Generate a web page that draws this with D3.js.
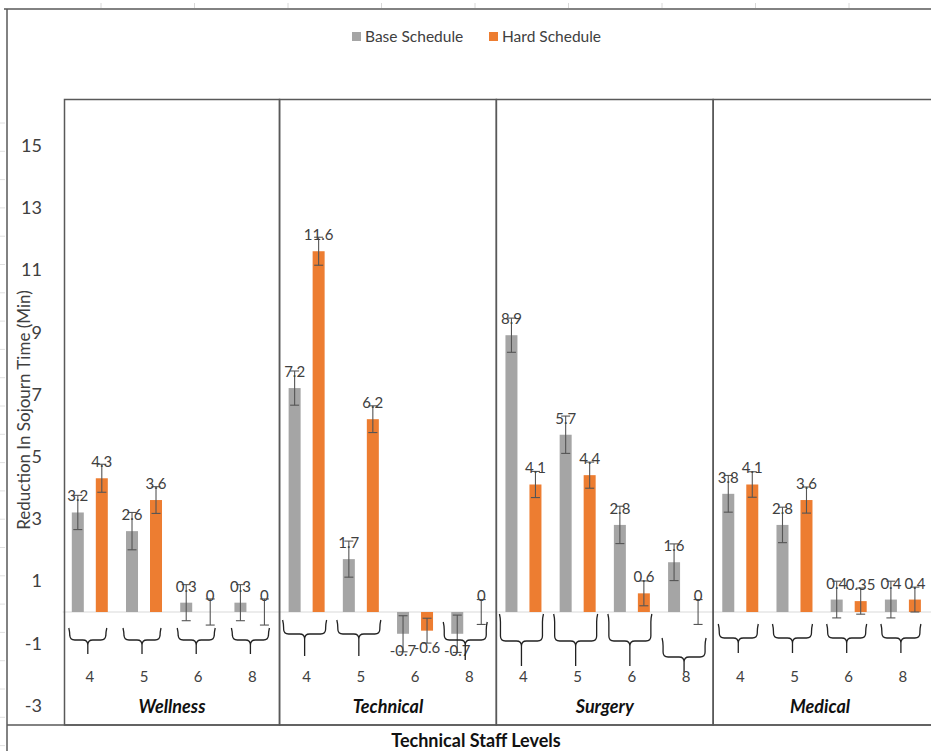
<!DOCTYPE html>
<html>
<head>
<meta charset="utf-8">
<script src="https://cdn.jsdelivr.net/npm/d3@7"></script>
<style>
  html, body { margin: 0; padding: 0; background: #fff; }
  svg { display: block; font-family: Lato, "Open Sans", sans-serif; }
</style>
</head>
<body>
<svg id="chart" width="931" height="751"></svg>
<script>
// ---------------- data ----------------
const panels = ["Wellness", "Technical", "Surgery", "Medical"];
const levels = ["4", "5", "6", "8"];
const seriesNames = ["Base Schedule", "Hard Schedule"];

const baseValues = {
  Wellness:  [3.2, 2.6, 0.3, 0.3],
  Technical: [7.2, 1.7, -0.7, -0.7],
  Surgery:   [8.9, 5.7, 2.8, 1.6],
  Medical:   [3.8, 2.8, 0.4, 0.4]
};
const hardValues = {
  Wellness:  [4.3, 3.6, 0, 0],
  Technical: [11.6, 6.2, -0.6, 0],
  Surgery:   [4.1, 4.4, 0.6, 0],
  Medical:   [4.1, 3.6, 0.35, 0.4]
};
const baseErrors = {
  Wellness:  [0.55, 0.6, 0.58, 0.58],
  Technical: [0.55, 0.58, 0.58, 0.6],
  Surgery:   [0.55, 0.6, 0.6, 0.59],
  Medical:   [0.59, 0.57, 0.59, 0.59]
};
const hardErrors = {
  Wellness:  [0.45, 0.43, 0.42, 0.42],
  Technical: [0.45, 0.43, 0.4, 0.4],
  Surgery:   [0.42, 0.42, 0.4, 0.4],
  Medical:   [0.41, 0.42, 0.42, 0.4]
};
const yTicks = [15, 13, 11, 9, 7, 5, 3, 1, -1, -3];
const yTitle = "Reduction In Sojourn Time (Min)";
const xTitle = "Technical Staff Levels";

// ---------------- styles / layout ----------------
const colors = { "Base Schedule": "#a5a5a5", "Hard Schedule": "#ed7d31" };
const frameColor = "#595959";
const textColor = "#404040";
const W = 931, H = 751;
const plotLeft = 62.7, plotRight = 930;
const panelTop = 99.5, panelBottom = 725;

// brace shape per panel (pixel offsets below the zero line)
const braceStyle = {
  Wellness:  { halfW: 18, top: 16, mid: 28, tip: 42 },
  Technical: { halfW: 21, top: 8,  mid: 22, tip: 44 },
  Surgery:   { halfW: 21, top: 2,  mid: 29, tip: 54 },
  Medical:   { halfW: 19, top: 12, mid: 26, tip: 41 }
};
const braceOverride = {
  "Technical|6": null,
  "Technical|8": { halfW: 21, top: 10, mid: 28, tip: 48, dx: -2 },
  "Surgery|8":   { halfW: 21, top: 26, mid: 45, tip: 60 }
};

// ---------------- build rows ----------------
const rows = [];
panels.forEach(p => levels.forEach((l, i) => {
  rows.push({ panel: p, level: l, key: p + "|" + l,
    bars: [
      { series: "Base Schedule", value: baseValues[p][i], err: baseErrors[p][i] },
      { series: "Hard Schedule", value: hardValues[p][i], err: hardErrors[p][i] }
    ]});
}));

const svg = d3.select("#chart");

const y = d3.scaleLinear().domain([-3, 17]).range([705.3, 83.3]);
const x = d3.scaleBand().domain(rows.map(r => r.key)).range([plotLeft, plotRight]).padding(0);
const step = x.step();
const xs = d3.scaleBand().domain(seriesNames)
  .range([(step - 36) / 2, (step + 36) / 2]).paddingInner(0.5).paddingOuter(0);

// faint spreadsheet gridline stubs
const colStubs = d3.range(101, W, 93.5);
svg.append("g").selectAll("line").data(colStubs).join("line")
  .attr("x1", d => d).attr("x2", d => d).attr("y1", 3).attr("y2", 8)
  .attr("stroke", "#d8d8d8").attr("stroke-width", 1);
const rowStubs = d3.range(123, H, 28.3);
svg.append("g").selectAll("line").data(rowStubs).join("line")
  .attr("x1", 0).attr("x2", 5).attr("y1", d => d).attr("y2", d => d)
  .attr("stroke", "#e0e0e0").attr("stroke-width", 1);

// outer frame
svg.append("line").attr("x1", 4).attr("x2", W).attr("y1", 9).attr("y2", 9)
  .attr("stroke", frameColor).attr("stroke-width", 1.5);
svg.append("line").attr("x1", 7).attr("x2", 7).attr("y1", 9).attr("y2", H)
  .attr("stroke", frameColor).attr("stroke-width", 1.5);

// legend
const legend = svg.append("g");
const legendItems = [
  { name: seriesNames[0], rx: 352, tx: 365 },
  { name: seriesNames[1], rx: 489, tx: 502 }
];
legend.selectAll("rect").data(legendItems).join("rect")
  .attr("x", d => d.rx).attr("y", 32).attr("width", 9).attr("height", 9)
  .attr("fill", d => colors[d.name]);
legend.selectAll("text").data(legendItems).join("text")
  .attr("x", d => d.tx).attr("y", 41.5)
  .attr("font-size", 15.5).attr("fill", textColor)
  .text(d => d.name);

// zero line
svg.append("line").attr("x1", plotLeft).attr("x2", W)
  .attr("y1", y(0)).attr("y2", y(0))
  .attr("stroke", "#d9d9d9").attr("stroke-width", 1.2);

// panel boxes
const panelBounds = panels.map((p, i) => ({
  panel: p,
  x0: i === 0 ? 64.5 : x(p + "|4"),
  x1: i === panels.length - 1 ? W + 2 : x(panels[i + 1] + "|4")
}));
svg.append("g").selectAll("rect").data(panelBounds).join("rect")
  .attr("x", d => d.x0).attr("y", panelTop)
  .attr("width", d => d.x1 - d.x0).attr("height", panelBottom - panelTop)
  .attr("fill", "none").attr("stroke", frameColor).attr("stroke-width", 1.5);

// bottom frame line
svg.append("line").attr("x1", 7).attr("x2", W).attr("y1", panelBottom).attr("y2", panelBottom)
  .attr("stroke", frameColor).attr("stroke-width", 1.5);

// y axis labels
svg.append("g").selectAll("text").data(yTicks).join("text")
  .attr("x", 42).attr("y", d => y(d)).attr("dy", "0.36em")
  .attr("text-anchor", "end").attr("font-size", 18).attr("fill", textColor)
  .text(d => d);

svg.append("text")
  .attr("transform", `translate(30, 410) rotate(-90)`)
  .attr("text-anchor", "middle").attr("font-size", 17).attr("fill", textColor)
  .text(yTitle);

// bars
const groups = svg.append("g").selectAll("g").data(rows).join("g")
  .attr("transform", d => `translate(${x(d.key)},0)`);

groups.selectAll("rect").data(d => d.bars).join("rect")
  .attr("x", d => xs(d.series)).attr("width", xs.bandwidth())
  .attr("y", d => y(Math.max(0, d.value)))
  .attr("height", d => Math.abs(y(d.value) - y(0)))
  .attr("fill", d => colors[d.series]);

// error bars
const eb = groups.selectAll("g.err").data(d => d.bars).join("g").attr("class", "err")
  .attr("stroke", "#555").attr("stroke-width", 1.1);
eb.append("line")
  .attr("x1", d => xs(d.series) + xs.bandwidth() / 2)
  .attr("x2", d => xs(d.series) + xs.bandwidth() / 2)
  .attr("y1", d => y(d.value + d.err)).attr("y2", d => y(d.value - d.err));
[1, -1].forEach(s => {
  eb.append("line")
    .attr("x1", d => xs(d.series) + xs.bandwidth() / 2 - 4.5)
    .attr("x2", d => xs(d.series) + xs.bandwidth() / 2 + 4.5)
    .attr("y1", d => y(d.value + s * d.err)).attr("y2", d => y(d.value + s * d.err));
});

// data labels
groups.selectAll("text.lbl").data(d => d.bars).join("text").attr("class", "lbl")
  .attr("x", d => xs(d.series) + xs.bandwidth() / 2)
  .attr("y", d => d.value < 0 ? y(d.value) + 22 : y(d.value) - 11)
  .attr("text-anchor", "middle").attr("font-size", 15).attr("fill", textColor)
  .text(d => String(d.value));

// braces
function bracePath(cx, b) {
  const y0 = y(0);
  const L = cx - b.halfW, R = cx + b.halfW;
  const t = y0 + b.top, m = y0 + b.mid, tip = y0 + b.tip;
  const r = 5;
  return `M${L - 1},${t} Q${L},${t + 4} ${L},${t + 8} L${L},${m - r} Q${L},${m} ${L + r},${m}` +
    ` L${cx - r},${m} Q${cx},${m} ${cx},${m + r} L${cx},${tip}` +
    ` M${cx},${m + r} Q${cx},${m} ${cx + r},${m} L${R - r},${m} Q${R},${m} ${R},${m - r}` +
    ` L${R},${t + 8} Q${R},${t + 4} ${R + 1},${t}`;
}
const braceRows = rows.filter(r => braceOverride[r.key] !== null);
svg.append("g").selectAll("path").data(braceRows).join("path")
  .attr("d", d => {
    const b = braceOverride[d.key] || braceStyle[d.panel];
    const cx = x(d.key) + step / 2 - 2 + (b.dx || 0);
    return bracePath(cx, b);
  })
  .attr("fill", "none").attr("stroke", "#222").attr("stroke-width", 1.3);

// category labels
svg.append("g").selectAll("text").data(rows).join("text")
  .attr("x", d => x(d.key) + step / 2).attr("y", 682)
  .attr("text-anchor", "middle").attr("font-size", 15).attr("fill", textColor)
  .text(d => d.level);

// panel names
svg.append("g").selectAll("text").data(panelBounds).join("text")
  .attr("x", d => (d.x0 + Math.min(d.x1, 931)) / 2 + (d.panel === "Medical" ? -2 : 0))
  .attr("y", 713)
  .attr("text-anchor", "middle").attr("font-size", 18)
  .attr("font-weight", "bold").attr("font-style", "italic").attr("fill", "#111")
  .text(d => d.panel);

// x title
svg.append("text").attr("x", 476).attr("y", 747)
  .attr("text-anchor", "middle").attr("font-size", 18).attr("font-weight", "bold")
  .attr("fill", "#111").text(xTitle);
</script>
</body>
</html>
